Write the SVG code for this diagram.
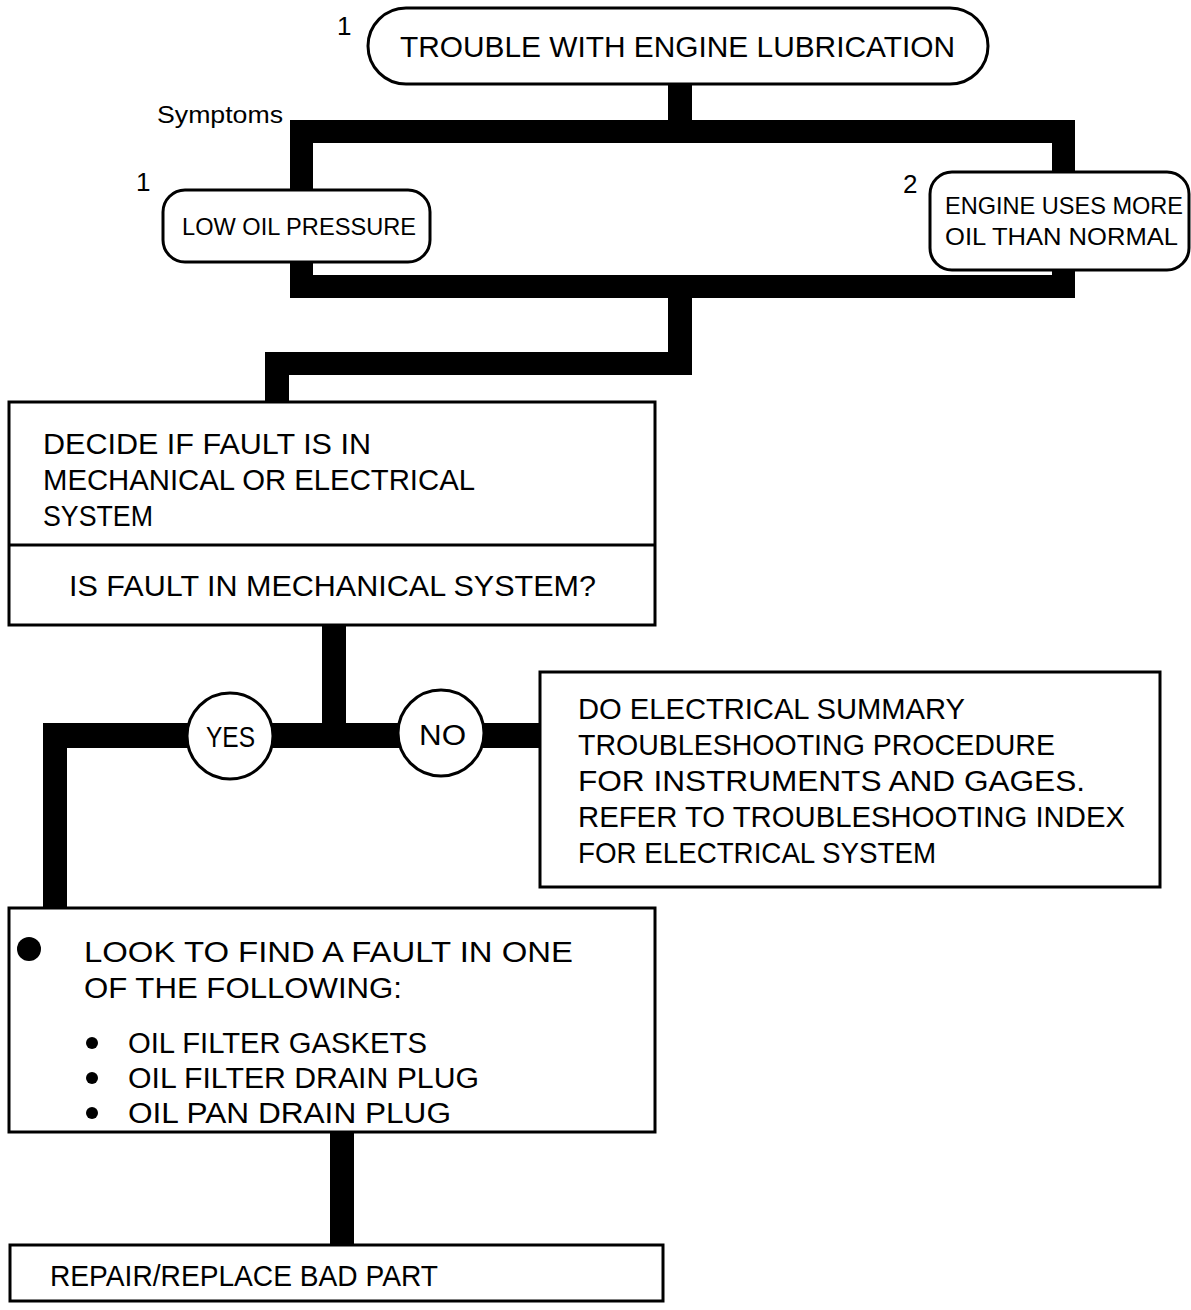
<svg xmlns="http://www.w3.org/2000/svg" width="1191" height="1310" viewBox="0 0 1191 1310">
<style>
.box{fill:#fff;stroke:#000;stroke-width:3}
.bar{fill:#000}
text{font-family:"Liberation Sans",Arial,sans-serif;fill:#000}
.t{font-size:30px}
.s{font-size:24px}
.n{font-size:26px}
</style>
<rect width="1191" height="1310" fill="#fff"/>
<g id="connectors">
<rect class="bar" x="668" y="82" width="24" height="40"/>
<rect class="bar" x="290" y="120" width="785" height="23"/>
<rect class="bar" x="290" y="120" width="23" height="178"/>
<rect class="bar" x="1052" y="120" width="23" height="178"/>
<rect class="bar" x="290" y="275" width="785" height="23"/>
<rect class="bar" x="668" y="275" width="24" height="100"/>
<rect class="bar" x="265" y="352" width="427" height="23"/>
<rect class="bar" x="265" y="352" width="24" height="52"/>
<rect class="bar" x="322" y="623" width="24" height="125"/>
<rect class="bar" x="43" y="723" width="499" height="25"/>
<rect class="bar" x="43" y="723" width="24" height="187"/>
<rect class="bar" x="330" y="1130" width="24" height="117"/>
</g>
<g id="n_top">
<rect class="box" x="368" y="8" width="620" height="76" rx="38"/>
<text x="337" y="35" class="n">1</text>
<text class="t" x="400" y="57" textLength="555" lengthAdjust="spacingAndGlyphs">TROUBLE WITH ENGINE LUBRICATION</text>
</g>
<text id="symptoms" class="s" x="157" y="123" textLength="126" lengthAdjust="spacingAndGlyphs">Symptoms</text>
<g id="n_low">
<rect class="box" x="163" y="190" width="267" height="72" rx="22"/>
<text x="136" y="191" class="n">1</text>
<text class="s" x="182" y="235" textLength="234" lengthAdjust="spacingAndGlyphs">LOW OIL PRESSURE</text>
</g>
<g id="n_uses">
<rect class="box" x="930" y="172" width="259" height="98" rx="22"/>
<text x="903" y="193" class="n">2</text>
<text class="s" x="945" y="214" textLength="238" lengthAdjust="spacingAndGlyphs">ENGINE USES MORE</text>
<text class="s" x="945" y="245" textLength="233" lengthAdjust="spacingAndGlyphs">OIL THAN NORMAL</text>
</g>
<g id="n_decide">
<rect class="box" x="9" y="402" width="646" height="223"/>
<line x1="9" y1="545" x2="655" y2="545" stroke="#000" stroke-width="3"/>
<text class="t" x="43" y="454" textLength="328" lengthAdjust="spacingAndGlyphs">DECIDE IF FAULT IS IN</text>
<text class="t" x="43" y="490" textLength="432" lengthAdjust="spacingAndGlyphs">MECHANICAL OR ELECTRICAL</text>
<text class="t" x="43" y="526" textLength="110" lengthAdjust="spacingAndGlyphs">SYSTEM</text>
<text class="t" x="69" y="596" textLength="527" lengthAdjust="spacingAndGlyphs">IS FAULT IN MECHANICAL SYSTEM?</text>
</g>
<g id="n_yes">
<circle class="box" cx="230" cy="736" r="43" stroke-width="4"/>
<text class="t" x="206" y="747" textLength="49" lengthAdjust="spacingAndGlyphs">YES</text>
</g>
<g id="n_no">
<circle class="box" cx="441" cy="733" r="43" stroke-width="4"/>
<text class="t" x="419" y="745" textLength="47" lengthAdjust="spacingAndGlyphs">NO</text>
</g>
<g id="n_elec">
<rect class="box" x="540" y="672" width="620" height="215"/>
<text class="t" x="578" y="719" textLength="387" lengthAdjust="spacingAndGlyphs">DO ELECTRICAL SUMMARY</text>
<text class="t" x="578" y="755" textLength="477" lengthAdjust="spacingAndGlyphs">TROUBLESHOOTING PROCEDURE</text>
<text class="t" x="578" y="791" textLength="507" lengthAdjust="spacingAndGlyphs">FOR INSTRUMENTS AND GAGES.</text>
<text class="t" x="578" y="827" textLength="547" lengthAdjust="spacingAndGlyphs">REFER TO TROUBLESHOOTING INDEX</text>
<text class="t" x="578" y="863" textLength="358" lengthAdjust="spacingAndGlyphs">FOR ELECTRICAL SYSTEM</text>
</g>
<g id="n_look">
<rect class="box" x="9" y="908" width="646" height="224"/>
<circle cx="29" cy="949" r="12" fill="#000"/>
<text class="t" x="84" y="962" textLength="489" lengthAdjust="spacingAndGlyphs">LOOK TO FIND A FAULT IN ONE</text>
<text class="t" x="84" y="998" textLength="318" lengthAdjust="spacingAndGlyphs">OF THE FOLLOWING:</text>
<circle cx="92" cy="1043" r="6" fill="#000"/>
<circle cx="92" cy="1078" r="6" fill="#000"/>
<circle cx="92" cy="1113" r="6" fill="#000"/>
<text class="t" x="128" y="1053" textLength="299" lengthAdjust="spacingAndGlyphs">OIL FILTER GASKETS</text>
<text class="t" x="128" y="1088" textLength="351" lengthAdjust="spacingAndGlyphs">OIL FILTER DRAIN PLUG</text>
<text class="t" x="128" y="1123" textLength="323" lengthAdjust="spacingAndGlyphs">OIL PAN DRAIN PLUG</text>
</g>
<g id="n_repair">
<rect class="box" x="10" y="1245" width="653" height="56"/>
<text class="t" x="50" y="1286" textLength="388" lengthAdjust="spacingAndGlyphs">REPAIR/REPLACE BAD PART</text>
</g>
</svg>
